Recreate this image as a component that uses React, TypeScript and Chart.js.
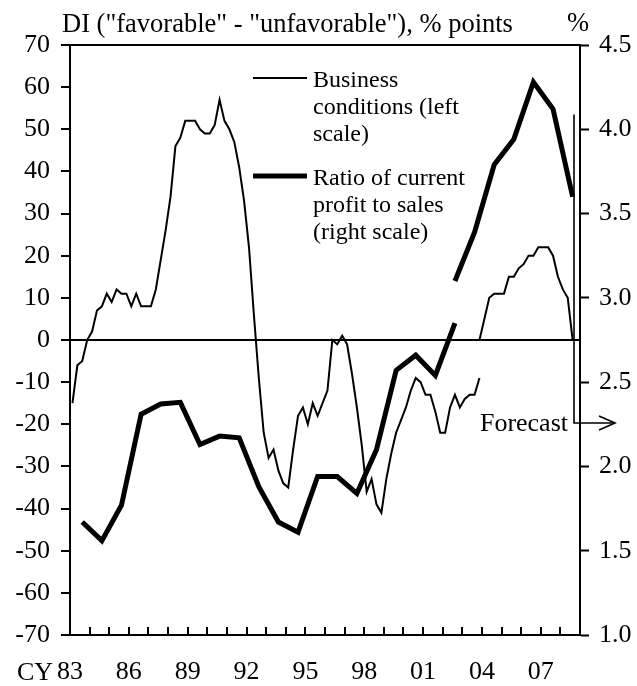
import React, { useEffect, useRef } from 'react';
import { Chart, registerables } from 'chart.js';

Chart.register(...registerables);

const FONT = "'Liberation Serif', 'Times New Roman', serif";

// Business conditions DI (left scale), quarterly, 1983 Q1 - 2003 Q4 (old basis)
const bcOldStart = 1983.125;
const businessConditionsOld = [
  -15, -6, -5, 0,
  2, 7, 8, 11,
  9, 12, 11, 11,
  8, 11, 8, 8,
  8, 12, 19, 26,
  34, 46, 48, 52,
  52, 52, 50, 49,
  49, 51, 57, 52,
  50, 47, 41, 33,
  22, 6, -9, -22,
  -28, -26, -31, -34,
  -35, -26, -18, -16,
  -20, -15, -18, -15,
  -12, 0, -1, 1,
  -1, -8, -16, -25,
  -36, -33, -39, -41,
  -33, -27, -22, -19,
  -16, -12, -9, -10,
  -13, -13, -17, -22,
  -22, -16, -13, -16,
  -14, -13, -13, -9,
];

// Business conditions DI (left scale), quarterly, 2003 Q4 - 2008 Q3 (new basis)
const bcNewStart = 2003.875;
const businessConditionsNew = [
  0, 5, 10, 11, 11, 11, 15, 15, 17, 18, 20, 20, 22, 22, 22, 20, 15, 12, 10, 0,
];

// Ratio of current profit to sales (right scale), annual
const ratioOldYears = [
  1983, 1984, 1985, 1986, 1987, 1988, 1989, 1990, 1991, 1992,
  1993, 1994, 1995, 1996, 1997, 1998, 1999, 2000, 2001, 2002,
];
const ratioOld = [
  1.67, 1.56, 1.77, 2.31, 2.37, 2.38, 2.13, 2.18, 2.17, 1.88,
  1.67, 1.61, 1.94, 1.94, 1.84, 2.10, 2.57, 2.66, 2.54, 2.85,
];
const ratioNewYears = [2002, 2003, 2004, 2005, 2006, 2007, 2008];
const ratioNew = [3.10, 3.39, 3.79, 3.94, 4.28, 4.12, 3.60];

const xLabelYears = [1983, 1986, 1989, 1992, 1995, 1998, 2001, 2004, 2007];
const xMin = 1983;
const xMax = 2009;
const leftMin = -70;
const leftMax = 70;
const rightMin = 1.0;
const rightMax = 4.5;

const titleText = 'DI ("favorable" - "unfavorable"), % points';
const rightUnit = '%';
const xPrefix = 'CY';
const legendThin = ['Business', 'conditions (left', 'scale)'];
const legendThick = ['Ratio of current', 'profit to sales', '(right scale)'];
const forecastLabel = 'Forecast';
const forecastYear = 2008.7;
const forecastTopDI = 53.5;
const forecastArrowDI = -19.7;

const quarterPoints = (start: number, vals: number[]) =>
  vals.map((v, i) => ({ x: start + 0.25 * i, y: v }));
const annualPoints = (years: number[], vals: number[]) =>
  vals.map((v, i) => ({ x: years[i] + 0.625, y: v }));

const decorPlugin = {
  id: 'decor',
  afterDraw(chart: any) {
    const ctx = chart.ctx as CanvasRenderingContext2D;
    const { left, right, top, bottom } = chart.chartArea;
    const xs = chart.scales.x;
    const ys = chart.scales.y;
    ctx.save();
    ctx.strokeStyle = '#000';
    ctx.fillStyle = '#000';
    ctx.lineCap = 'butt';

    // top border
    ctx.lineWidth = 2;
    ctx.beginPath();
    ctx.moveTo(left - 1, top);
    ctx.lineTo(right + 1, top);
    ctx.stroke();

    // inward x ticks
    ctx.lineWidth = 2;
    for (let yr = xMin + 1; yr < xMax; yr++) {
      const px = Math.round(xs.getPixelForValue(yr));
      ctx.beginPath();
      ctx.moveTo(px, bottom);
      ctx.lineTo(px, bottom - 8);
      ctx.stroke();
    }

    // title texts
    ctx.font = `26.5px ${FONT}`;
    ctx.textBaseline = 'alphabetic';
    ctx.textAlign = 'left';
    ctx.fillText(titleText, 62, 32);
    ctx.fillText(rightUnit, 567, 31);

    // CY prefix
    ctx.font = `26px ${FONT}`;
    ctx.textAlign = 'right';
    ctx.textBaseline = 'middle';
    ctx.fillText(xPrefix, 53, 673);

    // legend
    ctx.lineWidth = 2;
    ctx.beginPath();
    ctx.moveTo(253, 78);
    ctx.lineTo(307, 78);
    ctx.stroke();
    ctx.lineWidth = 5;
    ctx.beginPath();
    ctx.moveTo(253, 176);
    ctx.lineTo(307, 176);
    ctx.stroke();
    ctx.font = `24px ${FONT}`;
    ctx.textAlign = 'left';
    ctx.textBaseline = 'alphabetic';
    legendThin.forEach((t, i) => ctx.fillText(t, 313, 87 + i * 27));
    legendThick.forEach((t, i) => ctx.fillText(t, 313, 185 + i * 27));

    // forecast marker
    const fx = Math.round(xs.getPixelForValue(forecastYear));
    const fTop = ys.getPixelForValue(forecastTopDI);
    const fBot = ys.getPixelForValue(forecastArrowDI);
    ctx.lineWidth = 1.6;
    ctx.beginPath();
    ctx.moveTo(fx, fTop);
    ctx.lineTo(fx, fBot);
    ctx.lineTo(fx + 41, fBot);
    ctx.stroke();
    ctx.beginPath();
    ctx.moveTo(fx + 25, fBot - 7);
    ctx.lineTo(fx + 41, fBot);
    ctx.lineTo(fx + 25, fBot + 7);
    ctx.stroke();
    ctx.font = `26px ${FONT}`;
    ctx.textAlign = 'right';
    ctx.fillText(forecastLabel, fx - 6, fBot + 8);

    ctx.restore();
  },
};

export default function App() {
  const ref = useRef<HTMLCanvasElement>(null);
  useEffect(() => {
    const canvas = ref.current!;
    const chart = new Chart(canvas, {
      type: 'line',
      data: {
        datasets: [
          {
            label: 'Business conditions (old)',
            data: quarterPoints(bcOldStart, businessConditionsOld),
            yAxisID: 'y',
            borderColor: '#000',
            borderWidth: 2,
            pointRadius: 0,
            tension: 0,
            fill: false,
          },
          {
            label: 'Business conditions (new)',
            data: quarterPoints(bcNewStart, businessConditionsNew),
            yAxisID: 'y',
            borderColor: '#000',
            borderWidth: 2,
            pointRadius: 0,
            tension: 0,
            fill: false,
          },
          {
            label: 'Ratio of current profit to sales (old)',
            data: annualPoints(ratioOldYears, ratioOld),
            yAxisID: 'y1',
            borderColor: '#000',
            borderWidth: 5,
            borderCapStyle: 'butt',
            borderJoinStyle: 'miter',
            pointRadius: 0,
            tension: 0,
            fill: false,
          },
          {
            label: 'Ratio of current profit to sales (new)',
            data: annualPoints(ratioNewYears, ratioNew),
            yAxisID: 'y1',
            borderColor: '#000',
            borderWidth: 5,
            borderCapStyle: 'butt',
            borderJoinStyle: 'miter',
            pointRadius: 0,
            tension: 0,
            fill: false,
          },
        ],
      },
      options: {
        responsive: false,
        animation: false,
        devicePixelRatio: 1,
        layout: { padding: { top: 45, left: 0, right: 0, bottom: 0 } },
        plugins: {
          legend: { display: false },
          tooltip: { enabled: false },
          title: { display: false },
        },
        scales: {
          x: {
            type: 'linear',
            min: xMin,
            max: xMax,
            afterFit: (s: any) => {
              s.height = 51;
            },
            grid: { display: false, drawTicks: false },
            border: { display: true, color: '#000', width: 2 },
            ticks: {
              stepSize: 1,
              autoSkip: false,
              maxRotation: 0,
              padding: 22,
              color: '#000',
              font: { family: FONT, size: 26 },
              callback: (v: any) =>
                xLabelYears.includes(Number(v)) ? String(Number(v) % 100).padStart(2, '0') : '',
            },
          },
          y: {
            type: 'linear',
            position: 'left',
            min: leftMin,
            max: leftMax,
            afterFit: (s: any) => {
              s.width = 70;
            },
            grid: {
              display: true,
              drawOnChartArea: true,
              drawTicks: true,
              tickLength: 9,
              tickWidth: 2,
              tickColor: '#000',
              lineWidth: 2,
              color: (c: any) => (c.tick && c.tick.value === 0 ? '#000' : 'rgba(0,0,0,0)'),
            },
            border: { display: true, color: '#000', width: 2 },
            ticks: {
              stepSize: 10,
              padding: 11,
              color: '#000',
              font: { family: FONT, size: 26 },
            },
          },
          y1: {
            type: 'linear',
            position: 'right',
            min: rightMin,
            max: rightMax,
            afterFit: (s: any) => {
              s.width = 57;
            },
            grid: {
              display: true,
              drawOnChartArea: false,
              drawTicks: true,
              tickLength: 9,
              tickWidth: 2,
              tickColor: '#000',
            },
            border: { display: true, color: '#000', width: 2 },
            ticks: {
              stepSize: 0.5,
              padding: 10,
              color: '#000',
              font: { family: FONT, size: 26 },
              callback: (v: any) => Number(v).toFixed(1),
            },
          },
        },
      },
      plugins: [decorPlugin],
    } as any);
    return () => chart.destroy();
  }, []);
  return (
    <div style={{ position: 'fixed', left: 0, top: 0, width: 637, height: 686, background: '#fff' }}>
      <canvas ref={ref} width={637} height={686} style={{ display: 'block', width: 637, height: 686 }} />
    </div>
  );
}
